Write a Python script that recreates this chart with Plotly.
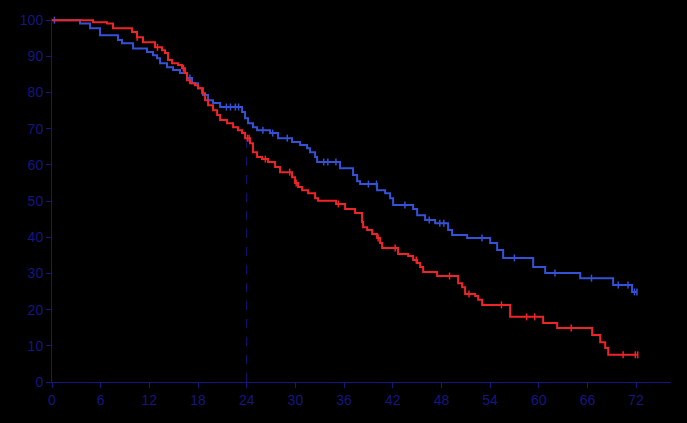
import bisect

import plotly.graph_objects as go

# Kaplan-Meier steps: event times (months) and survival after each drop (%)
BLUE_T = [3.45, 4.69, 5.92, 8.14, 8.63, 9.99, 11.71, 12.45, 12.95, 13.32, 14.18, 14.92, 15.78,
          16.65, 17.26, 18.00, 18.62, 19.24, 19.85, 20.72, 23.43, 23.80, 24.17, 24.78, 25.28,
          26.88, 27.87, 29.59, 30.58, 31.44, 31.81, 32.43, 32.68, 35.51, 37.11, 37.61, 37.98,
          40.07, 41.06, 41.68, 42.05, 44.51, 45.01, 45.99, 47.23, 48.83, 49.32, 51.17, 54.01,
          54.87, 55.61, 59.31, 60.79, 65.11, 69.17, 71.50]
BLUE_S = [99.1, 97.8, 95.8, 94.5, 93.6, 92.2, 91.2, 90.3, 89.5, 88.1, 87.0, 86.2, 85.4,
          84.0, 82.6, 81.2, 79.3, 77.9, 77.1, 76.0, 74.6, 72.9, 71.5, 70.4, 69.6,
          68.8, 67.4, 66.3, 65.5, 64.6, 63.5, 62.2, 60.8, 59.1, 57.2, 55.5, 54.7,
          53.0, 52.2, 50.8, 48.9, 47.8, 46.1, 44.8, 43.9, 42.0, 40.6, 39.8, 38.4,
          36.5, 34.3, 31.8, 30.1, 28.7, 26.8, 24.9]
BLUE_CENS = [0.3, 17.0, 21.5, 22.0, 22.6, 23.0, 26.0, 27.2, 29.0, 33.5, 34.0, 35.0, 39.0, 40.0,
             43.5, 46.5, 47.8, 48.3, 53.0, 57.0, 62.0, 66.5, 69.8, 71.0, 71.8, 72.1]

RED_T = [5.06, 6.78, 7.52, 9.86, 10.48, 11.22, 12.70, 13.56, 13.93, 14.30, 14.80, 15.54, 16.03,
         16.40, 16.65, 17.02, 17.63, 18.00, 18.50, 18.87, 19.24, 19.85, 20.35, 20.72, 21.58,
         22.32, 22.93, 23.43, 23.80, 24.41, 24.78, 25.28, 25.89, 26.63, 27.50, 28.11, 29.59,
         29.96, 30.33, 30.83, 31.57, 32.43, 32.80, 35.02, 36.13, 37.36, 38.22, 38.35, 38.84,
         39.46, 40.07, 40.44, 40.69, 42.66, 43.90, 44.51, 45.01, 45.38, 45.75, 47.47, 50.06,
         50.55, 50.92, 52.16, 52.53, 53.02, 56.47, 60.54, 62.27, 66.58, 67.57, 68.19, 68.56]
RED_S = [99.4, 99.1, 97.8, 96.7, 95.3, 93.9, 92.5, 91.7, 90.9, 89.0, 88.1, 87.6, 86.7,
         85.4, 83.4, 82.6, 82.0, 81.2, 79.8, 77.9, 76.5, 75.1, 73.8, 72.4, 71.5,
         70.4, 69.6, 68.8, 67.4, 66.0, 63.5, 62.2, 61.6, 60.8, 59.4, 58.0, 56.6,
         55.0, 53.9, 53.0, 52.2, 50.8, 50.1, 49.2, 47.8, 46.7, 44.2, 42.8, 42.0,
         40.9, 39.8, 38.4, 37.0, 35.4, 34.8, 33.7, 32.9, 31.8, 30.4, 29.3, 27.3,
         26.2, 24.3, 23.8, 22.7, 21.3, 18.0, 16.3, 14.9, 13.0, 11.0, 9.4, 7.5]
RED_CENS = [10.5, 13.0, 16.2, 24.1, 24.3, 26.3, 29.3, 30.1, 35.3, 40.2, 42.3, 44.9, 49.0,
            51.4, 55.4, 58.5, 59.5, 64.0, 70.4, 71.9, 72.2]

END_T = 72.1
LANDMARK = 24
XTICKS = list(range(0, 73, 6))
YTICKS = list(range(0, 101, 10))

NAVY = "#161680"
BLUE = "#3352d6"
RED = "#ee2426"


def surv_at(times, surv, t):
    i = bisect.bisect_right(times, t)
    return 100.0 if i == 0 else surv[i - 1]


fig = go.Figure()
for times, surv, cens, col in [(BLUE_T, BLUE_S, BLUE_CENS, BLUE), (RED_T, RED_S, RED_CENS, RED)]:
    fig.add_trace(go.Scatter(x=[0] + times + [END_T], y=[100] + surv + [surv[-1]],
                             mode="lines", line=dict(color=col, width=2, shape="hv"),
                             hoverinfo="skip"))
    fig.add_trace(go.Scatter(x=cens, y=[surv_at(times, surv, t) for t in cens], mode="markers",
                             marker=dict(symbol="line-ns", size=5, line=dict(color=col, width=1.5)),
                             cliponaxis=False, hoverinfo="skip"))

# dashed landmark at 24 months, up to the red curve
fig.add_shape(type="line", xref="x", yref="y", x0=LANDMARK, x1=LANDMARK, y0=0,
              y1=surv_at(RED_T, RED_S, LANDMARK), line=dict(color=NAVY, width=1, dash="dash"),
              layer="below")

axis = dict(showline=True, linecolor=NAVY, linewidth=1, ticks="outside", ticklen=5,
            tickcolor=NAVY, tickwidth=1, showgrid=False, zeroline=False,
            tickfont=dict(family="Liberation Sans, Arial", size=14, color=NAVY))
fig.update_xaxes(range=[0, 76.3], tickvals=XTICKS, **axis)
fig.update_yaxes(range=[0, 100.6], tickvals=YTICKS, **axis)
fig.update_layout(width=687, height=423, showlegend=False, paper_bgcolor="black",
                  plot_bgcolor="black", margin=dict(l=52, r=16, t=18, b=41))
# page body margin off so the black figure fills the window
fig.write_html("out.html", config={"displayModeBar": False},
               post_script="document.body.style.margin='0';document.body.style.background='black';")
